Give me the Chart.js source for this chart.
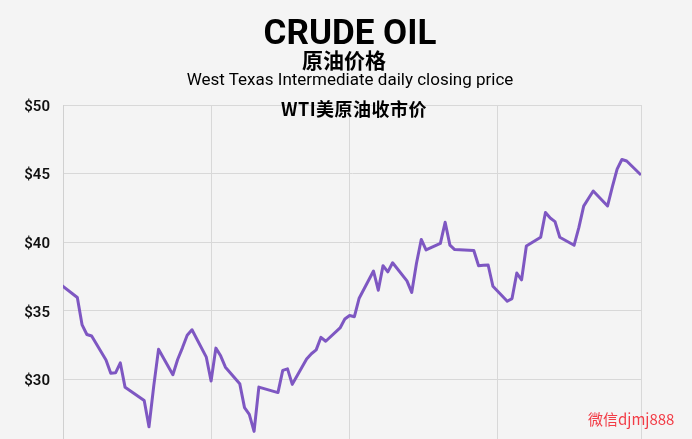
<!DOCTYPE html>
<html>
<head>
<meta charset="utf-8">
<script src="https://cdn.jsdelivr.net/npm/chart.js@4/dist/chart.umd.min.js"></script>
<style>
  html,body{margin:0;padding:0;background:#f4f4f4;overflow:hidden;width:692px;height:439px;}
  #c{position:absolute;left:0;top:0;}
  .t{position:absolute;white-space:nowrap;transform:translateX(-50%);color:#000;z-index:2;}
  #h1{left:350px;top:15px;font:700 35px/35px Roboto,sans-serif;}
  #h2{left:344px;top:49px;font:700 21px/21px "Noto Sans CJK SC",sans-serif;}
  #h3{left:350px;top:71px;font:400 17px/17px Roboto,sans-serif;}
  #h4{left:354px;top:99px;font:700 18px/18px "Noto Sans CJK SC",sans-serif;letter-spacing:0.5px;}
  #wm{position:absolute;left:588px;top:411px;font:400 15px/15px "Noto Sans CJK SC",sans-serif;color:#f23c46;z-index:2;}
</style>
</head>
<body>
<canvas id="c" width="692" height="470"></canvas>
<div class="t" id="h1">CRUDE OIL</div>
<div class="t" id="h2">原油价格</div>
<div class="t" id="h3">West Texas Intermediate daily closing price</div>
<div class="t" id="h4">WTI美原油收市价</div>
<div id="wm">微信djmj888</div>
<script>
// WTI 收市价，按图上的日期位置
const dates = [
  "2015-12-31","2016-01-04","2016-01-05","2016-01-06","2016-01-07","2016-01-10","2016-01-11",
  "2016-01-12","2016-01-13","2016-01-14","2016-01-18","2016-01-19","2016-01-20","2016-01-21","2016-01-24",
  "2016-01-25","2016-01-26","2016-01-27","2016-01-28","2016-01-31","2016-02-01","2016-02-02","2016-02-03",
  "2016-02-04","2016-02-07","2016-02-08","2016-02-09","2016-02-10","2016-02-11","2016-02-15","2016-02-16",
  "2016-02-17","2016-02-18","2016-02-21","2016-02-22","2016-02-23","2016-02-24","2016-02-25","2016-02-28",
  "2016-02-29","2016-03-01","2016-03-02","2016-03-03","2016-03-06","2016-03-07","2016-03-08","2016-03-09",
  "2016-03-10","2016-03-13","2016-03-14","2016-03-15","2016-03-16","2016-03-17","2016-03-20","2016-03-21",
  "2016-03-22","2016-03-23","2016-03-27","2016-03-28","2016-03-29","2016-03-30","2016-03-31","2016-04-03",
  "2016-04-04","2016-04-05","2016-04-06","2016-04-07","2016-04-10","2016-04-11","2016-04-12","2016-04-13",
  "2016-04-14","2016-04-17","2016-04-18","2016-04-19","2016-04-20","2016-04-21","2016-04-24","2016-04-25",
  "2016-04-26","2016-04-27","2016-04-28","2016-05-01"
];
const prices = [
  37.04,35.97,33.97,33.27,33.16,31.41,30.44,
  30.48,31.20,29.42,28.46,26.55,29.53,32.19,30.34,
  31.45,32.30,33.22,33.62,31.62,29.88,32.28,31.72,
  30.89,29.69,27.94,27.45,26.21,29.44,29.04,30.66,
  30.77,29.64,31.48,31.87,32.15,33.07,32.78,33.75,
  34.40,34.66,34.57,35.92,37.90,36.50,38.29,37.84,
  38.50,37.18,36.34,38.46,40.20,39.44,39.91,41.45,
  39.79,39.46,39.39,38.28,38.32,38.34,36.79,35.70,
  35.89,37.75,37.26,39.72,40.36,42.17,41.76,41.50,
  40.36,39.78,41.08,42.63,43.18,43.73,42.64,44.04,
  45.33,46.03,45.92,44.90
];
const monthStarts = ["2016-01-01","2016-02-01","2016-03-01","2016-04-01","2016-05-01"];
const yTicks = [25,30,35,40,45,50];

const day0 = Date.UTC(2016,0,1);
const toDay = s => { const [y,m,d] = s.split("-").map(Number); return (Date.UTC(y,m-1,d)-day0)/86400000; };
const pts = dates.map((d,i)=>({x:toDay(d), y:prices[i]}));
const monthDays = monthStarts.map(toDay);

new Chart(document.getElementById("c"),{
  type:"line",
  data:{datasets:[{data:pts, borderColor:"#7e57c2", borderWidth:3, pointRadius:0, tension:0, clip:0, borderJoinStyle:"round"}]},
  options:{
    responsive:false, animation:false, devicePixelRatio:1,
    layout:{padding:{top:105,right:51,bottom:20,left:0}},
    plugins:{legend:{display:false},tooltip:{enabled:false}},
    scales:{
      x:{type:"linear", min:monthDays[0], max:monthDays[monthDays.length-1],
         afterBuildTicks:s=>{ s.ticks = monthDays.map(v=>({value:v})); },
         ticks:{display:false}, grid:{color:"#d8d8d8", drawTicks:false}, border:{display:false}},
      y:{min:yTicks[0], max:yTicks[yTicks.length-1],
         afterBuildTicks:s=>{ s.ticks = yTicks.map(v=>({value:v})); },
         ticks:{padding:13, labelOffset:2, color:"#111", font:{family:"Roboto", size:15, weight:"600"}, callback:v=>"$"+v},
         grid:{color:"#d8d8d8", drawTicks:false}, border:{color:"#d0d0d0"},
         afterFit:s=>{ s.width = 63; }}
    }
  }
});
</script>
</body>
</html>
